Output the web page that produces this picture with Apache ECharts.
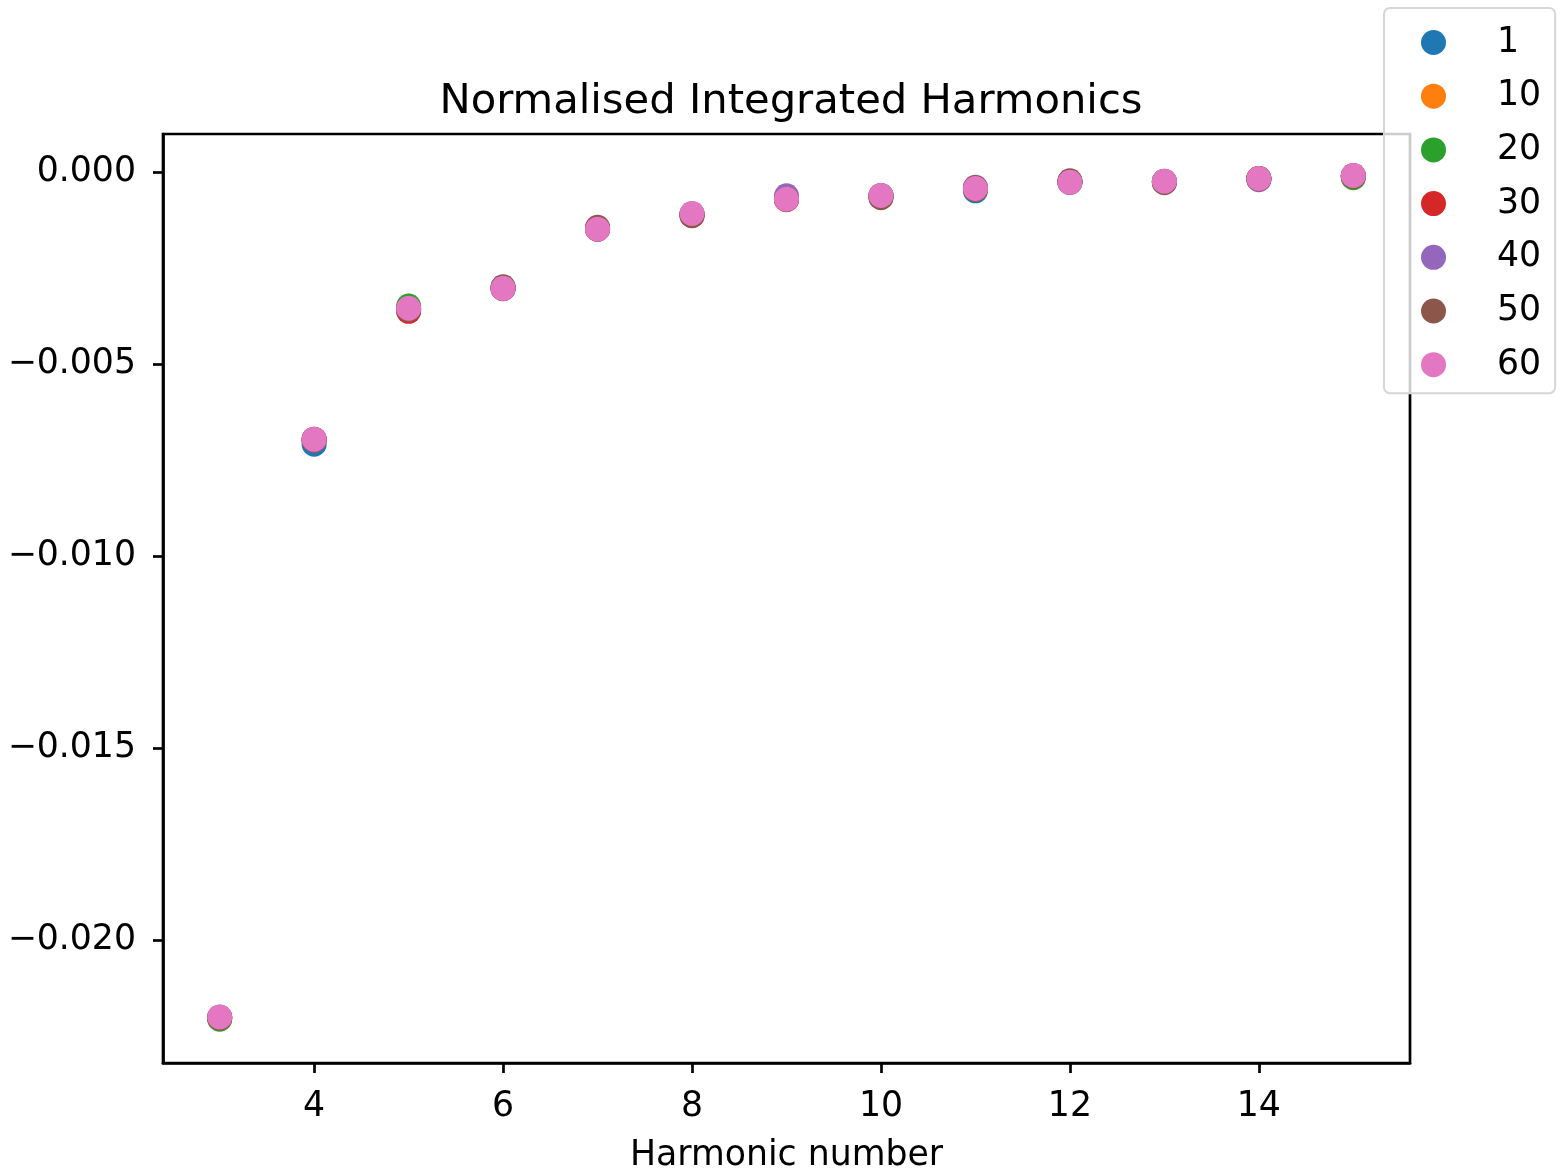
<!DOCTYPE html>
<html>
<head>
<meta charset="utf-8">
<script src="https://cdn.jsdelivr.net/npm/echarts@6/dist/echarts.min.js"></script>
<style>html,body{margin:0;padding:0;background:#fff;}#c{width:1565px;height:1169px;}</style>
</head>
<body>
<div id="c"></div>
<script>
const harmonics = [3, 4, 5, 6, 7, 8, 9, 10, 11, 12, 13, 14, 15];
const seriesNames = ['1', '10', '20', '30', '40', '50', '60'];
const s1  = [-0.02201, -0.00708, -0.00355, -0.00302, -0.00148, -0.00108, -0.00068, -0.00061, -0.00048, -0.00026, -0.00024, -0.00016, -0.00009];
const s10 = [-0.02203, -0.00697, -0.00358, -0.00301, -0.00147, -0.00110, -0.00069, -0.00062, -0.00043, -0.00025, -0.00024, -0.00016, -0.00009];
const s20 = [-0.02206, -0.00696, -0.00348, -0.00300, -0.00146, -0.00109, -0.00070, -0.00061, -0.00042, -0.00025, -0.00024, -0.00016, -0.00014];
const s30 = [-0.02202, -0.00697, -0.00362, -0.00303, -0.00148, -0.00113, -0.00071, -0.00063, -0.00043, -0.00025, -0.00025, -0.00016, -0.00010];
const s40 = [-0.02201, -0.00696, -0.00356, -0.00302, -0.00147, -0.00109, -0.00061, -0.00060, -0.00039, -0.00026, -0.00023, -0.00019, -0.00009];
const s50 = [-0.02203, -0.00695, -0.00357, -0.00298, -0.00143, -0.00112, -0.00070, -0.00066, -0.00040, -0.00022, -0.00027, -0.00017, -0.00009];
const s60 = [-0.02200, -0.00695, -0.00354, -0.00302, -0.00148, -0.00107, -0.00070, -0.00060, -0.00042, -0.00026, -0.00023, -0.00016, -0.00008];
const seriesValues = [s1, s10, s20, s30, s40, s50, s60];
const colors = ['#1f77b4', '#ff7f0e', '#2ca02c', '#d62728', '#9467bd', '#8c564b', '#e377c2'];
const xTicks = [4, 6, 8, 10, 12, 14];
const yTicks = [0, -0.005, -0.010, -0.015, -0.020];
const titleText = 'Normalised Integrated Harmonics';
const xLabel = 'Harmonic number';

const FONT = 'DejaVu Sans';
const chart = echarts.init(document.getElementById('c'), null, {renderer: 'canvas'});
chart.setOption({
  animation: false,
  backgroundColor: '#ffffff',
  title: {
    text: titleText,
    left: 786, top: 76, textAlign: 'center',
    textStyle: {fontFamily: FONT, fontSize: 41.7, fontWeight: 'normal', color: '#000'}
  },
  grid: {left: 163, right: 155, top: 134, bottom: 106, outerBoundsMode: 'none', containLabel: false,
    show: true, borderColor: '#000', borderWidth: 2.7, backgroundColor: 'transparent'},
  legend: {
    orient: 'vertical', left: 1384, top: 8,
    data: seriesNames,
    icon: 'circle', itemWidth: 25, itemHeight: 25, itemGap: 18.7,
    padding: [17, 14, 11, 37],
    backgroundColor: 'rgba(255,255,255,0.8)',
    borderColor: '#d6d6d6', borderWidth: 2, borderRadius: 6,
    textStyle: {fontFamily: FONT, fontSize: 34.7, color: '#000', lineHeight: 34, padding: [0, 0, 0, 46]}
  },
  xAxis: {
    type: 'value', min: 2.4, max: 15.6,
    name: xLabel, nameLocation: 'middle', nameGap: 75,
    nameTextStyle: {fontFamily: FONT, fontSize: 34.7, color: '#000'},
    axisLine: {show: true, onZero: false, lineStyle: {color: '#000', width: 2.7}},
    axisTick: {show: true, length: 10, inside: false, customValues: xTicks, lineStyle: {color: '#000', width: 2.7}},
    axisLabel: {customValues: xTicks, margin: 26, fontFamily: FONT, fontSize: 34.7, color: '#000'},
    splitLine: {show: false}
  },
  yAxis: {
    type: 'value', min: -0.0232, max: 0.001,
    axisLine: {show: true, onZero: false, lineStyle: {color: '#000', width: 2.7}},
    axisTick: {show: true, length: 10, inside: false, customValues: yTicks, lineStyle: {color: '#000', width: 2.7}},
    axisLabel: {customValues: yTicks, margin: 27, fontFamily: FONT, fontSize: 34.7, color: '#000',
      formatter: v => v.toFixed(3).replace('-', '\u2212')},
    splitLine: {show: false}
  },
  series: seriesNames.map((n, i) => ({
    name: n, type: 'scatter', symbol: 'circle', symbolSize: 25,
    itemStyle: {color: colors[i], opacity: 1},
    z: 2 + i,
    data: harmonics.map((h, j) => [h, seriesValues[i][j]])
  }))
});
</script>
</body>
</html>
